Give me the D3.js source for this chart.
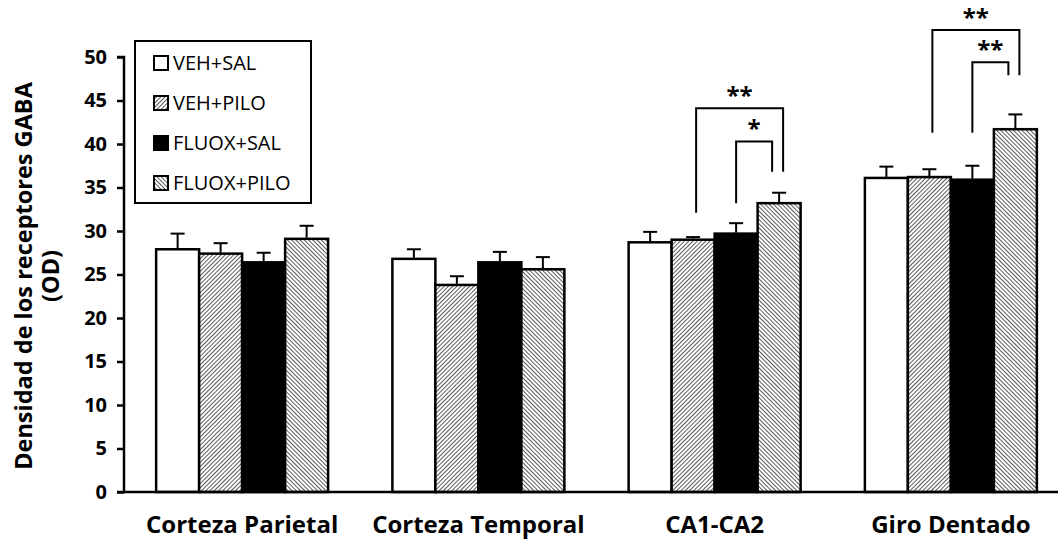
<!DOCTYPE html>
<html>
<head>
<meta charset="utf-8">
<script src="https://cdn.jsdelivr.net/npm/d3@7"></script>
<style>
  body { margin: 0; background: #fff; }
  svg { display: block; font-family: "Open Sans", sans-serif; }
</style>
</head>
<body>
<svg id="chart"></svg>
<script>
// data
const regions = ['Corteza Parietal', 'Corteza Temporal', 'CA1-CA2', 'Giro Dentado'];
const groups = ['VEH+SAL', 'VEH+PILO', 'FLUOX+SAL', 'FLUOX+PILO'];
const vehSal = [27.9, 26.8, 28.7, 36.1];
const vehPilo = [27.4, 23.8, 29.0, 36.2];
const fluoxSal = [26.4, 26.4, 29.7, 35.9];
const fluoxPilo = [29.1, 25.6, 33.2, 41.7];
const vehSalErr = [1.8, 1.1, 1.2, 1.3];
const vehPiloErr = [1.2, 1.0, 0.3, 0.9];
const fluoxSalErr = [1.1, 1.2, 1.2, 1.6];
const fluoxPiloErr = [1.5, 1.4, 1.2, 1.7];
const yTicks = [0, 5, 10, 15, 20, 25, 30, 35, 40, 45, 50];
// significance brackets: region, from group, to group, top, left foot, right foot, label
const brackets = [
  { region: 'CA1-CA2', from: 1, to: 3, top: 44.1, left: 32.1, right: 36.8, label: '**' },
  { region: 'CA1-CA2', from: 2, to: 3, top: 40.3, left: 33.2, right: 36.8, label: '*' },
  { region: 'Giro Dentado', from: 1, to: 3, top: 53.1, left: 41.3, right: 47.9, label: '**' },
  { region: 'Giro Dentado', from: 2, to: 3, top: 49.4, left: 41.3, right: 47.9, label: '**' }
];

const width = 1058;
const height = 544;

const values = [vehSal, vehPilo, fluoxSal, fluoxPilo];
const errors = [vehSalErr, vehPiloErr, fluoxSalErr, fluoxPiloErr];
const rows = [];
regions.forEach((r, i) => {
  groups.forEach((g, j) => {
    rows.push({ region: r, group: g, gi: j, value: values[j][i], err: errors[j][i] });
  });
});

const svg = d3.select('#chart')
  .attr('width', width)
  .attr('height', height);

// fill patterns for the hatched bars
const defs = svg.append('defs');
function hatch(id, angle) {
  const p = defs.append('pattern')
    .attr('id', id)
    .attr('patternUnits', 'userSpaceOnUse')
    .attr('width', 3)
    .attr('height', 3)
    .attr('patternTransform', `rotate(${angle})`);
  p.append('rect').attr('width', 3).attr('height', 3).attr('fill', '#fff');
  p.append('line')
    .attr('x1', 0).attr('y1', 0).attr('x2', 0).attr('y2', 3)
    .attr('stroke', '#000').attr('stroke-width', 1.3);
}
hatch('hatchA', 45);
hatch('hatchB', -45);

const fills = { 'VEH+SAL': '#fff', 'VEH+PILO': 'url(#hatchA)', 'FLUOX+SAL': '#000', 'FLUOX+PILO': 'url(#hatchB)' };

const x0 = d3.scaleBand()
  .domain(regions)
  .range([124, 1069])
  .paddingInner(0.272)
  .paddingOuter(0.136);

const x1 = d3.scaleBand()
  .domain(groups)
  .range([0, x0.bandwidth()]);

const y = d3.scaleLinear()
  .domain([0, 50])
  .range([492, 57]);

// bars
svg.append('g')
  .selectAll('rect')
  .data(rows)
  .join('rect')
  .attr('x', d => x0(d.region) + x1(d.group))
  .attr('y', d => y(d.value))
  .attr('width', x1.bandwidth())
  .attr('height', d => y(0) - y(d.value))
  .attr('fill', d => fills[d.group])
  .attr('stroke', '#000')
  .attr('stroke-width', 2.5);

// error bars (upper only)
const eb = svg.append('g')
  .attr('stroke', '#000')
  .attr('stroke-width', 2);
const cx = d => x0(d.region) + x1(d.group) + x1.bandwidth() / 2;
eb.selectAll('line.v')
  .data(rows)
  .join('line')
  .attr('class', 'v')
  .attr('x1', cx).attr('x2', cx)
  .attr('y1', d => y(d.value) - 1)
  .attr('y2', d => y(d.value + d.err));
eb.selectAll('line.c')
  .data(rows)
  .join('line')
  .attr('class', 'c')
  .attr('x1', d => cx(d) - 7).attr('x2', d => cx(d) + 7)
  .attr('y1', d => y(d.value + d.err))
  .attr('y2', d => y(d.value + d.err));

// axes
const yAxis = svg.append('g')
  .attr('transform', 'translate(124,0)')
  .call(d3.axisLeft(y).tickValues(yTicks).tickSize(7).tickPadding(10));
yAxis.select('.domain').attr('stroke-width', 2.5).attr('d', `M-7,${y(50)}H0V${y(0)}`);
yAxis.selectAll('.tick line').attr('stroke-width', 2.5);
yAxis.selectAll('.tick text')
  .attr('font-size', 20)
  .attr('font-weight', 'bold')
  .attr('font-family', '"Open Sans", sans-serif')
  .attr('fill', '#000');

const xAxis = svg.append('g')
  .attr('transform', `translate(0,${y(0)})`)
  .call(d3.axisBottom(x0).tickSize(0).tickPadding(24));
xAxis.select('.domain').attr('stroke-width', 2.5).attr('d', `M117,0H1058`);
xAxis.selectAll('.tick text')
  .attr('font-size', 24)
  .attr('font-weight', 'bold')
  .attr('font-family', '"Open Sans", sans-serif')
  .attr('fill', '#000');

// y title
const yTitle = svg.append('text')
  .attr('transform', 'translate(32,276) rotate(-90)')
  .attr('text-anchor', 'middle')
  .attr('font-size', 23.5)
  .attr('font-weight', 'bold');
yTitle.append('tspan').attr('x', 0).attr('dy', 0).text('Densidad de los receptores GABA');
yTitle.append('tspan').attr('x', 0).attr('dy', 27).text('(OD)');

// significance brackets
const bx = (region, gi) => x0(region) + x1(groups[gi]) + x1.bandwidth() / 2;
const br = svg.append('g');
brackets.forEach((b, i) => {
  const outer = b.to - b.from > 1;
  const xl = bx(b.region, b.from) + (outer ? 3 : 0);
  const xr = bx(b.region, b.to) + (outer ? 4 : -7);
  br.append('path')
    .attr('d', `M${xl},${y(b.left)}V${y(b.top)}H${xr}V${y(b.right)}`)
    .attr('fill', 'none')
    .attr('stroke', '#000')
    .attr('stroke-width', 2);
  br.append('text')
    .attr('x', (xl + xr) / 2)
    .attr('y', y(b.top) - 4)
    .attr('text-anchor', 'middle')
    .attr('font-size', 24)
    .attr('font-weight', 'bold')
    .text(b.label);
});

// legend
const legend = svg.append('g').attr('transform', 'translate(135,41)');
legend.append('rect')
  .attr('width', 176).attr('height', 162)
  .attr('fill', '#fff').attr('stroke', '#000').attr('stroke-width', 2);
const item = legend.selectAll('g.item')
  .data(groups)
  .join('g')
  .attr('class', 'item')
  .attr('transform', (d, i) => `translate(19,${22 + i * 40})`);
item.append('rect')
  .attr('x', 0).attr('y', -7)
  .attr('width', 14).attr('height', 14)
  .attr('fill', d => fills[d])
  .attr('stroke', '#000').attr('stroke-width', 2);
item.append('text')
  .attr('x', 19).attr('y', 7)
  .attr('font-size', 20)
  .text(d => d);
</script>
</body>
</html>
